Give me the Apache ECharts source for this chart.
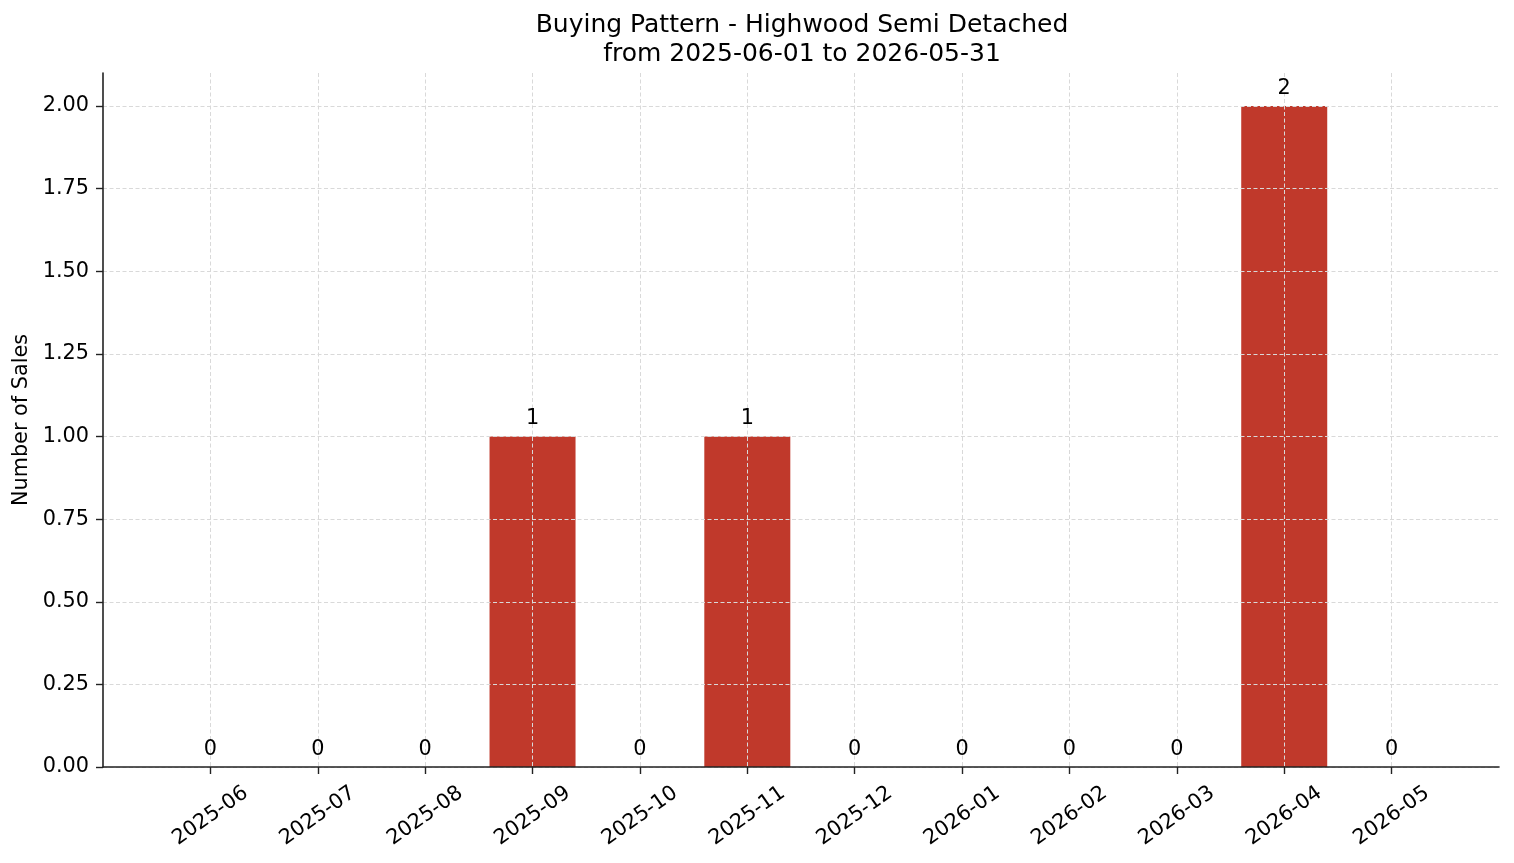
<!DOCTYPE html>
<html>
<head>
<meta charset="utf-8">
<script src="https://cdn.jsdelivr.net/npm/echarts@6/dist/echarts.min.js"></script>
<style>
  html, body { margin: 0; padding: 0; background: #fff; }
  #chartContainer { width: 1514px; height: 863px; }
</style>
</head>
<body>
<div id="chartContainer"></div>
<script>
// Monthly sales counts
const months = ['2025-06', '2025-07', '2025-08', '2025-09', '2025-10', '2025-11',
                '2025-12', '2026-01', '2026-02', '2026-03', '2026-04', '2026-05'];
const sales = [0, 0, 0, 1, 0, 1, 0, 0, 0, 0, 2, 0];
const yTicks = [0, 0.25, 0.5, 0.75, 1, 1.25, 1.5, 1.75, 2];

const titleText = 'Buying Pattern - Highwood Semi Detached\nfrom 2025-06-01 to 2026-05-31';
const font = 'DejaVu Sans';

const monthIdx = months.map((m, i) => i);
const barData = sales.map((v, i) => [i, v]);

const myChart = echarts.init(document.getElementById('chartContainer'));

const gridLine = { show: true, lineStyle: { color: '#d9d9d9', width: 1, type: [4, 2.5] } };

const option = {
    animation: false,
    textStyle: { fontFamily: font },
    title: {
        text: titleText,
        left: 797,
        textAlign: 'center',
        top: 6,
        textStyle: { fontFamily: font, fontSize: 25, fontWeight: 'normal', color: '#000', lineHeight: 29 }
    },
    grid: { left: 103, right: 15, top: 73, bottom: 96, containLabel: false, outerBoundsMode: 'none' },
    xAxis: {
        type: 'value',
        min: -1,
        max: 12,
        z: 3,
        axisLine: { onZero: false, lineStyle: { color: '#222', width: 1.6 } },
        axisTick: { customValues: monthIdx, length: 7, lineStyle: { color: '#222', width: 1.4 } },
        axisLabel: {
            customValues: monthIdx,
            formatter: v => months[v] || '',
            rotate: 35,
            align: 'center',
            verticalAlign: 'middle',
            margin: 49,
            fontSize: 20.8,
            color: '#000',
            fontFamily: font
        },
        splitLine: gridLine
    },
    yAxis: {
        type: 'value',
        min: 0,
        max: 2.1,
        z: 3,
        name: 'Number of Sales',
        nameLocation: 'middle',
        nameRotate: 90,
        nameGap: 66,
        nameTextStyle: { fontSize: 20.8, color: '#000', fontFamily: font },
        axisLine: { show: true, onZero: false, lineStyle: { color: '#222', width: 1.6 } },
        axisTick: { show: true, customValues: yTicks, length: 7, lineStyle: { color: '#222', width: 1.4 } },
        axisLabel: {
            customValues: yTicks,
            formatter: v => v.toFixed(2),
            margin: 14,
            fontSize: 20.8,
            color: '#000',
            fontFamily: font
        },
        splitLine: gridLine
    },
    series: [
        {
            // bars sit under the dashed grid
            type: 'bar',
            z: 2,
            data: barData,
            barWidth: 86,
            itemStyle: { color: '#c0392b' }
        },
        {
            // same bars, invisible, only to put the value labels above the grid
            type: 'bar',
            z: 5,
            data: barData,
            barWidth: 86,
            barGap: '-100%',
            silent: true,
            itemStyle: { color: 'rgba(0,0,0,0)' },
            label: {
                show: true,
                position: 'top',
                distance: 7,
                formatter: p => String(p.value[1]),
                fontSize: 20.8,
                color: '#000',
                fontFamily: font
            }
        }
    ]
};

myChart.setOption(option);
</script>
</body>
</html>
